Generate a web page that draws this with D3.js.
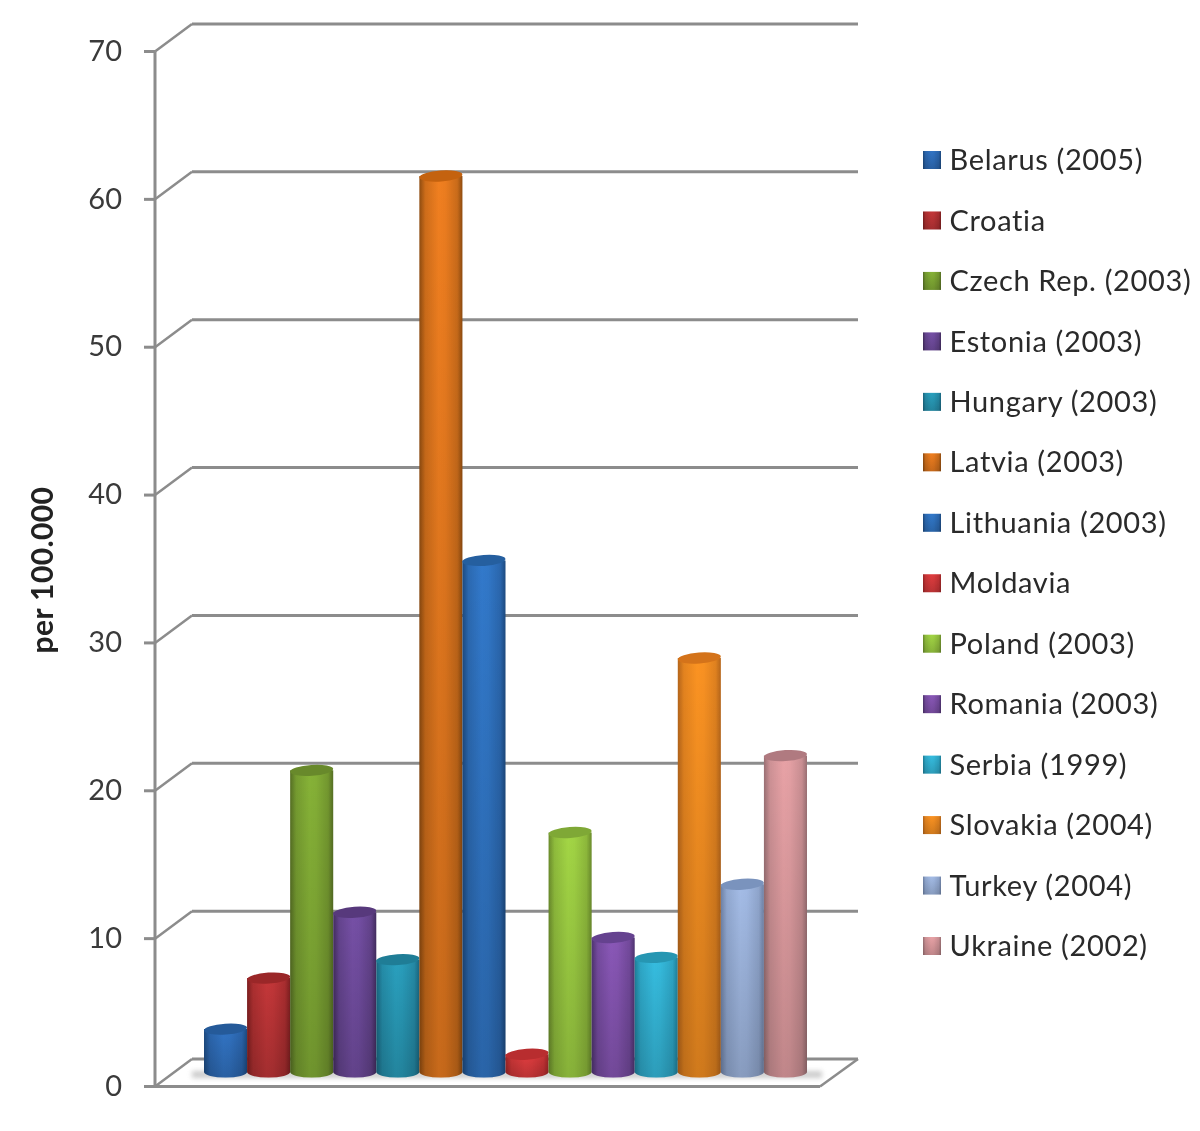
<!DOCTYPE html>
<html><head><meta charset="utf-8">
<script src="https://cdnjs.cloudflare.com/ajax/libs/d3/7.8.5/d3.min.js"></script>
<style>html,body{margin:0;background:#fff}svg{display:block;filter:blur(.6px)}</style></head>
<body><svg id="c" width="1200" height="1131"></svg>
<script>
const categories=["Belarus (2005)","Croatia","Czech Rep. (2003)","Estonia (2003)","Hungary (2003)","Latvia (2003)","Lithuania (2003)","Moldavia","Poland (2003)","Romania (2003)","Serbia (1999)","Slovakia (2004)","Turkey (2004)","Ukraine (2002)"];
const values=[2.9,6.35,20.4,10.8,7.6,60.6,34.6,1.2,16.2,9.1,7.75,28,12.7,21.4];
const midColors=["#3274c4","#c43739","#86b237","#7650a6","#2aa0be","#f07f20","#3279cb","#e03d3f","#a3d645","#8a58b8","#36bde0","#fb9322","#a4bce6","#e8a2a6"];
const edgeColors=["#1d4a80","#7e1f20","#566f24","#432d60","#1a6680","#8f4c10","#1d4a80","#9c2526","#6b8c2c","#4e3370","#1f7f99","#b5651a","#6f82a6","#9a7074"];
const topColors=["#255a99","#9a2728","#68892b","#57397c","#1f7d96","#c4620f","#255f9f","#b82d2f","#7fa836","#65428f","#2696b2","#d4731a","#7a93bd","#b07a80"];
const yTicks=[0,10,20,30,40,50,60,70];
const axisTitle="per 100.000";

const svg=d3.select("#c");
const y=d3.scaleLinear().domain([0,70]).range([1086.5,51.5]);
const x=d3.scaleBand().domain(categories).range([204,807]).padding(0);
const legendY=d3.scalePoint().domain(categories).range([160,946]);
const barBase=1072, ry=5.5;
const h=v=>y(0)-y(v);
const dx=37, dy=-27.5, rightBack=858, rightFront=820;
const gridCol="#8c8c8c";

const defs=svg.append("defs");
const grads=defs.selectAll("linearGradient.h").data(categories).join("linearGradient")
  .attr("class","h").attr("id",(d,i)=>"g"+i).attr("x1",0).attr("x2",1).attr("y1",0).attr("y2",0);
const stopsAt=[[0,1],[.14,.35],[.45,0],[.6,.05],[.88,.4],[1,1]];
stopsAt.forEach(([o,t])=>{
  grads.append("stop").attr("offset",o).attr("stop-color",(d,i)=>d3.interpolateRgb(midColors[i],edgeColors[i])(t));
});
const shade=defs.append("linearGradient").attr("id","shade").attr("x1",0).attr("x2",0).attr("y1",0).attr("y2",1);
shade.append("stop").attr("offset",0).attr("stop-color","#000").attr("stop-opacity",0);
shade.append("stop").attr("offset",1).attr("stop-color","#000").attr("stop-opacity",.17);
const sf=defs.append("filter").attr("id","sh").attr("x","-10%").attr("width","120%").attr("y","-100%").attr("height","300%");
sf.append("feGaussianBlur").attr("stdDeviation",2.5);

// floor and walls
svg.append("g").selectAll("line").data(yTicks).join("line")
  .attr("x1",192).attr("x2",rightBack).attr("y1",d=>y(d)+dy).attr("y2",d=>y(d)+dy)
  .attr("stroke",gridCol).attr("stroke-width",3);
svg.append("g").selectAll("line").data(yTicks).join("line")
  .attr("x1",155).attr("x2",155+dx).attr("y1",d=>y(d)).attr("y2",d=>y(d)+dy)
  .attr("stroke",gridCol).attr("stroke-width",2.5);
svg.append("line").attr("x1",rightFront).attr("x2",rightBack).attr("y1",y(0)).attr("y2",y(0)+dy)
  .attr("stroke",gridCol).attr("stroke-width",2.5);
svg.append("rect").attr("x",192).attr("y",1071).attr("width",630).attr("height",7)
  .attr("fill","#a9a9a9").attr("opacity",.6).attr("filter","url(#sh)");

const axis=d3.axisLeft(y).tickValues(yTicks).tickSize(11).tickPadding(22);
const ag=svg.append("g").attr("transform","translate(155,0)").call(axis);
ag.select(".domain").attr("stroke",gridCol).attr("stroke-width",3).attr("d",`M0,${y(70)}V${y(0)}`);
ag.selectAll(".tick line").attr("stroke",gridCol).attr("stroke-width",3);
ag.selectAll(".tick text").attr("font-family","Lato").attr("font-size",29).attr("fill","#3a3a3a");
ag.selectAll(".tick").attr("transform",d=>`translate(0,${y(d)})`);
svg.append("line").attr("x1",144).attr("x2",rightFront).attr("y1",y(0)).attr("y2",y(0))
  .attr("stroke",gridCol).attr("stroke-width",3);

// cylinders
const bodyPath=(d,i)=>{
  const l=x(d),w=x.bandwidth(),r=w/2,t=barBase-h(values[i]);
  return `M${l},${t}L${l},${barBase}A${r},${ry} 0 0 0 ${l+w},${barBase}L${l+w},${t}Z`;
};
const bars=svg.append("g").selectAll("g").data(categories).join("g");
bars.append("path").attr("fill",(d,i)=>`url(#g${i})`).attr("d",bodyPath);
bars.append("path").attr("fill","url(#shade)").attr("d",bodyPath);
bars.append("ellipse").attr("fill",(d,i)=>topColors[i])
  .attr("cx",d=>x(d)+x.bandwidth()/2).attr("cy",(d,i)=>barBase-h(values[i]))
  .attr("rx",x.bandwidth()/2).attr("ry",ry)
  .attr("transform",(d,i)=>`rotate(-4 ${x(d)+x.bandwidth()/2} ${barBase-h(values[i])})`);

// legend
const lg=svg.append("g").selectAll("g").data(categories).join("g")
  .attr("transform",d=>`translate(923,${legendY(d)})`);
lg.append("rect").attr("y",-9).attr("width",18).attr("height",18).attr("fill",(d,i)=>`url(#g${i})`);
lg.append("rect").attr("y",-9).attr("width",18).attr("height",18).attr("fill","url(#shade)");
lg.append("text").attr("x",26.5).attr("dy","0.35em").attr("font-family","Lato").attr("font-size",29)
  .attr("letter-spacing",.65).attr("fill","#2a2a2a").text(d=>d);

svg.append("text").attr("transform","translate(53,570) rotate(-90)").attr("text-anchor","middle")
  .attr("font-family","Lato").attr("font-weight",700).attr("font-size",30).attr("letter-spacing",.4).attr("fill","#222").text(axisTitle);
</script></body></html>
